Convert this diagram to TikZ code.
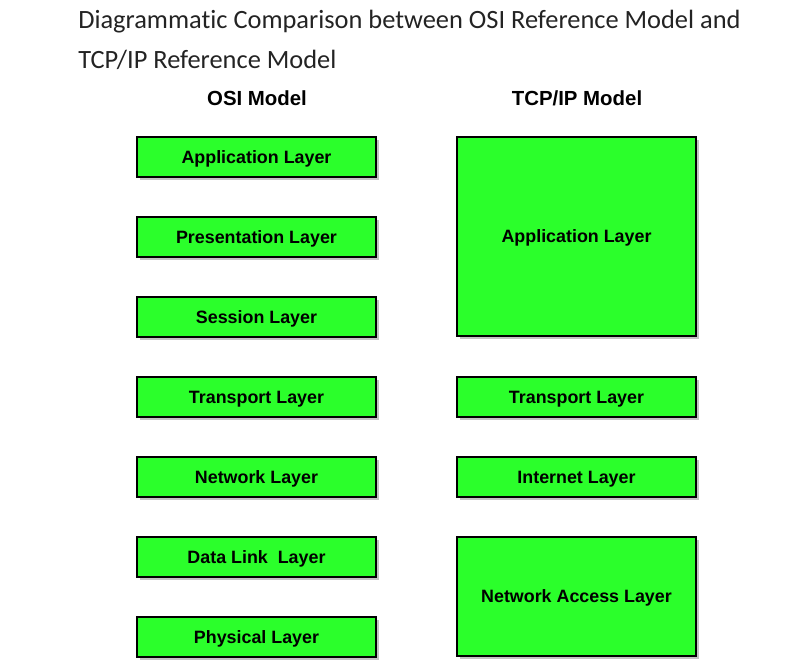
\documentclass[tikz,border=0pt]{standalone}
\usepackage{fontspec}
\setmainfont{Liberation Sans}
\newfontfamily\titlefont[Ligatures=NoCommon]{Carlito}
\usepackage{tikz}
\usetikzlibrary{positioning,shadows}
\definecolor{layergreen}{RGB}{43,255,43}
\definecolor{shadowgray}{RGB}{195,195,195}
\definecolor{titlegray}{RGB}{35,35,35}

\tikzset{
  layer/.style={draw=black,line width=0.9pt,fill=layergreen,inner sep=0pt,
    minimum width=179.25pt,minimum height=30pt,text depth=0pt,
    font=\fontsize{13.4}{16}\selectfont\bfseries,
    drop shadow={shadow xshift=2.4pt,shadow yshift=-2.4pt,fill=shadowgray,opacity=1}},
  head/.style={font=\fontsize{15.3}{18}\selectfont\bfseries},
  titleline/.style={anchor=base west,inner sep=0pt,text=titlegray,font=\titlefont\fontsize{19.8}{24}\selectfont}
}

\begin{document}
\begin{tikzpicture}[x=0.75pt,y=-0.75pt]
\useasboundingbox (0,0) rectangle (798,667);
\node[titleline](title1)at(78,29){Diagrammatic Comparison between OSI Reference Model and};
\node[titleline](title2)at(78,69){TCP/IP Reference Model};
\node[head](osihead)at(257,98){OSI Model};
\node[head](tcphead)at(577,98){TCP/IP Model};
% OSI stack
\foreach \n/\t in {1/Application Layer,2/Presentation Layer,3/Session Layer,4/Transport Layer,5/Network Layer,6/Data Link~ Layer,7/Physical Layer}
  \node[layer](osi\n)at(256.5,77+80*\n){\t};
% TCP/IP stack
\node[layer,minimum height=149.25pt](tcpapp)at(576.5,236.5){Application Layer};
\node[layer](tcptrans)at(576.5,397){Transport Layer};
\node[layer](tcpnet)at(576.5,477){Internet Layer};
\node[layer,minimum height=89.25pt](tcpacc)at(576.5,596.5){Network Access Layer};
\end{tikzpicture}
\end{document}
